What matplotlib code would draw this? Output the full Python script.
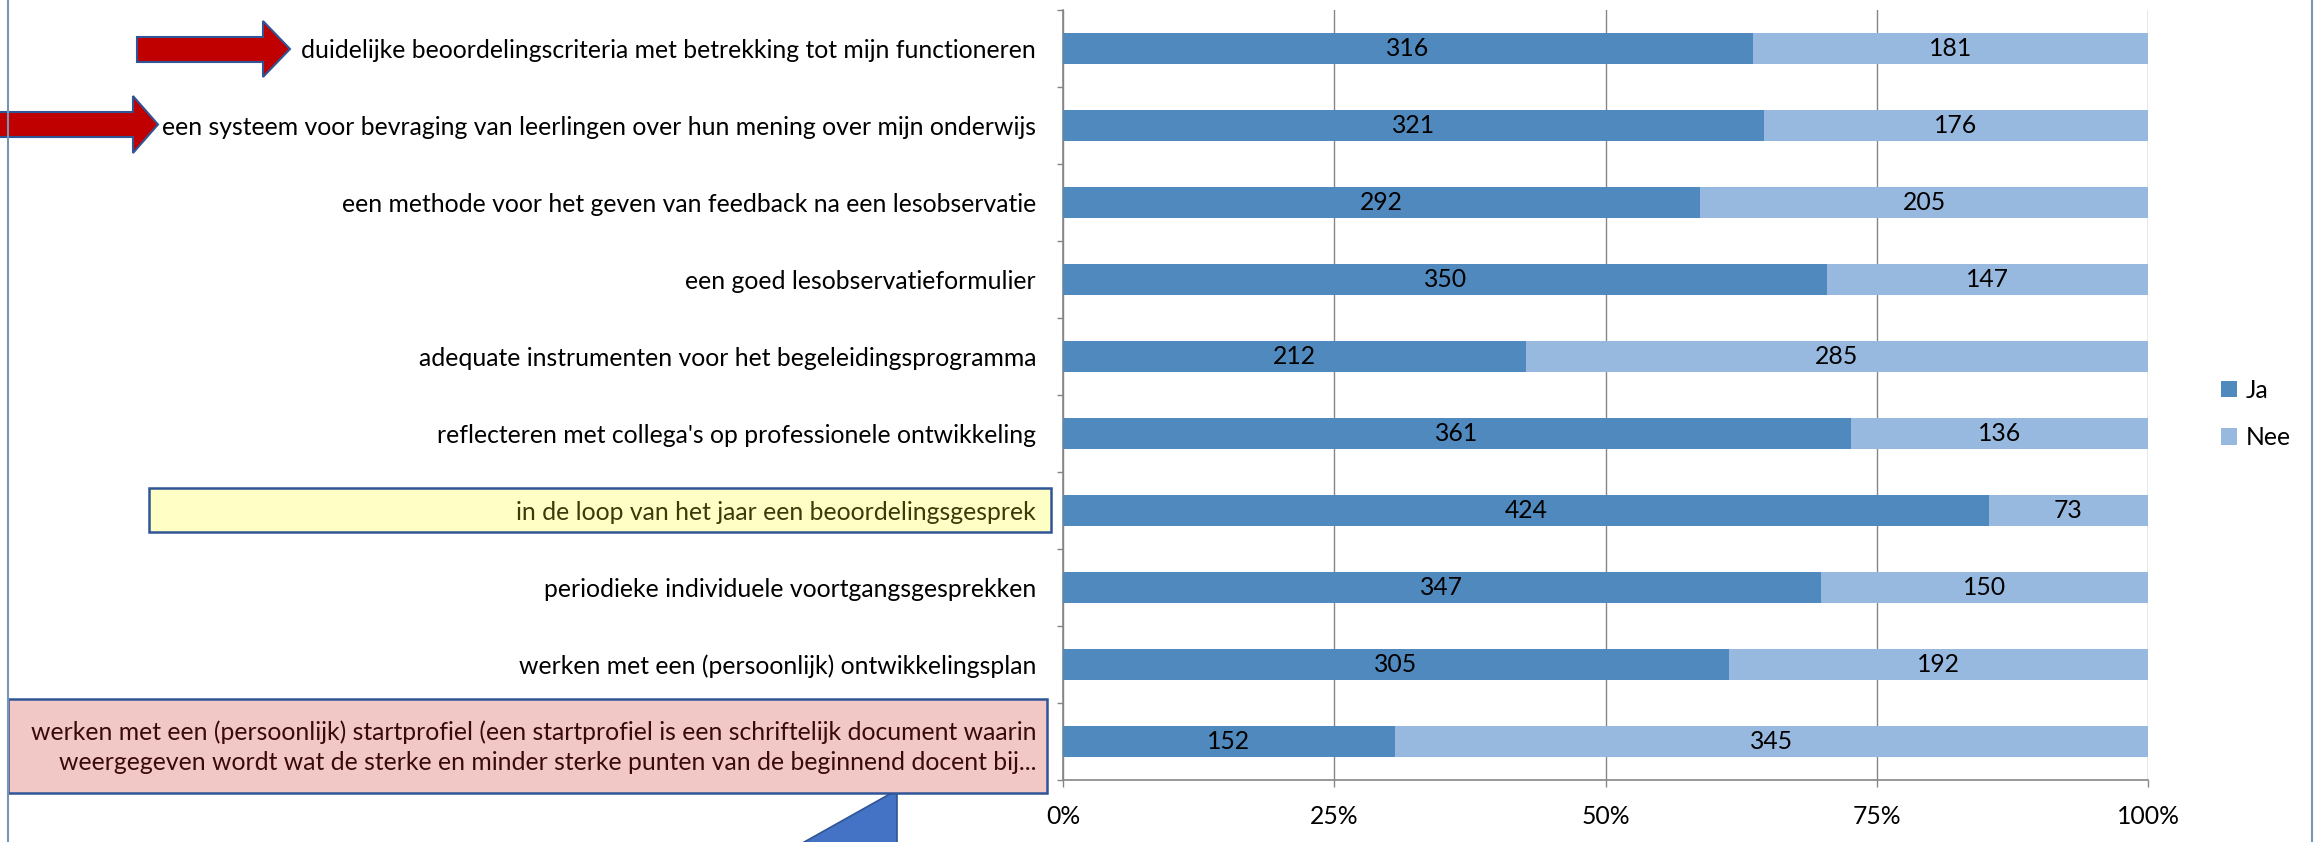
import matplotlib
matplotlib.use("Agg")
import matplotlib.pyplot as plt
from matplotlib.patches import Polygon
from matplotlib.lines import Line2D
import numpy as np

plt.rcParams['font.family'] = ['Lato', 'DejaVu Sans']

categories = [
    "duidelijke beoordelingscriteria met betrekking tot mijn functioneren",
    "een systeem voor bevraging van leerlingen over hun mening over mijn onderwijs",
    "een methode voor het geven van feedback na een lesobservatie",
    "een goed lesobservatieformulier",
    "adequate instrumenten voor het begeleidingsprogramma",
    "reflecteren met collega's op professionele ontwikkeling",
    "in de loop van het jaar een beoordelingsgesprek",
    "periodieke individuele voortgangsgesprekken",
    "werken met een (persoonlijk) ontwikkelingsplan",
    "werken met een (persoonlijk) startprofiel (een startprofiel is een schriftelijk document waarin\nweergegeven wordt wat de sterke en minder sterke punten van de beginnend docent bij...",
]
ja = [316, 321, 292, 350, 212, 361, 424, 347, 305, 152]
nee = [181, 176, 205, 147, 285, 136, 73, 150, 192, 345]
series_names = ["Ja", "Nee"]
xtick_labels = ["0%", "25%", "50%", "75%", "100%"]

W, H = 2318, 842
C_JA = '#4F89BD'
C_NEE = '#98B9DF'
GRAY = '#868686'
EDGE = '#2F5597'

fig = plt.figure(figsize=(W / 100, H / 100), dpi=100)
fig.patch.set_facecolor('white')

# fit font size to reference label width
renderer = fig.canvas.get_renderer()
t = fig.text(0, 0, categories[0], fontsize=10)
w10 = t.get_window_extent(renderer).width
t.remove()
fs = 10 * 736 / w10

def fx(x):
    return x / W

def fy(y):
    return 1 - y / H

ax = fig.add_axes([fx(1063), fy(780), 1085 / W, 770 / H])

ja_a = np.array(ja, float)
nee_a = np.array(nee, float)
tot = ja_a + nee_a
pos = np.arange(len(categories))
b1 = ax.barh(pos, ja_a / tot, height=0.4, color=C_JA, label=series_names[0], zorder=3)
b2 = ax.barh(pos, nee_a / tot, left=ja_a / tot, height=0.4, color=C_NEE, label=series_names[1], zorder=3)
ax.bar_label(b1, labels=[str(v) for v in ja], label_type='center', fontsize=fs, color='black')
ax.bar_label(b2, labels=[str(v) for v in nee], label_type='center', fontsize=fs, color='black')

ax.set_xlim(0, 1)
ax.set_ylim(len(categories) - 0.5, -0.5)
ax.set_xticks([0, 0.25, 0.5, 0.75, 1.0])
ax.set_xticklabels(xtick_labels, fontsize=fs)
ax.set_yticks(pos)
ax.set_yticklabels(categories, fontsize=fs)
ax.set_yticks(np.arange(len(categories) + 1) - 0.5, minor=True)
ax.tick_params(axis='y', which='major', length=0, pad=19.4)
ax.tick_params(axis='y', which='minor', length=4.5, color=GRAY, width=1)
ax.tick_params(axis='x', which='major', length=5, color=GRAY, width=1, pad=13)
ax.xaxis.grid(True, color=GRAY, lw=1, zorder=0)
ax.set_axisbelow(True)
for s in ['top', 'right']:
    ax.spines[s].set_visible(False)
for s in ['left', 'bottom']:
    ax.spines[s].set_color(GRAY)
    ax.spines[s].set_linewidth(1.2)

labels = ax.get_yticklabels()
labels[6].set_color('#3A3A0A')
labels[9].set_color('#3A0A0A')
labels[9].set_linespacing(1.4)

# annotation shapes (figure pixel coords)
def poly(pts, **kw):
    p = Polygon([(fx(x), fy(y)) for x, y in pts], closed=True,
                transform=fig.transFigure, zorder=-1, **kw)
    fig.add_artist(p)

poly([(137, 37), (263, 37), (263, 21), (290, 49), (263, 77), (263, 62), (137, 62)],
     facecolor='#C00000', edgecolor=EDGE, lw=1.5)
poly([(-5, 112), (133, 112), (133, 96), (158, 124.5), (133, 153), (133, 137), (-5, 137)],
     facecolor='#C00000', edgecolor=EDGE, lw=1.5)
poly([(149, 488), (1051, 488), (1051, 532), (149, 532)],
     facecolor='#FFFFC5', edgecolor=EDGE, lw=1.8)
poly([(897, 790), (897, 850), (790, 850)],
     facecolor='#4472C4', edgecolor=EDGE, lw=1.2)
poly([(8, 699), (1047, 699), (1047, 793), (8, 793)],
     facecolor='#F2C8C7', edgecolor=EDGE, lw=1.8)

# chart frame sides
for xx in (8, 2312):
    fig.add_artist(Line2D([fx(xx), fx(xx)], [0, 1], transform=fig.transFigure,
                          color='#7895B5', lw=1.5))

fig.legend(handles=[b1, b2], labels=series_names, loc='center left',
           bbox_to_anchor=(fx(2221), fy(414)), frameon=False, fontsize=fs,
           borderpad=0, borderaxespad=0,
           handlelength=0.65, handleheight=0.65, handletextpad=0.35, labelspacing=1.0)

fig.savefig('out.png', dpi=100, facecolor='white')
